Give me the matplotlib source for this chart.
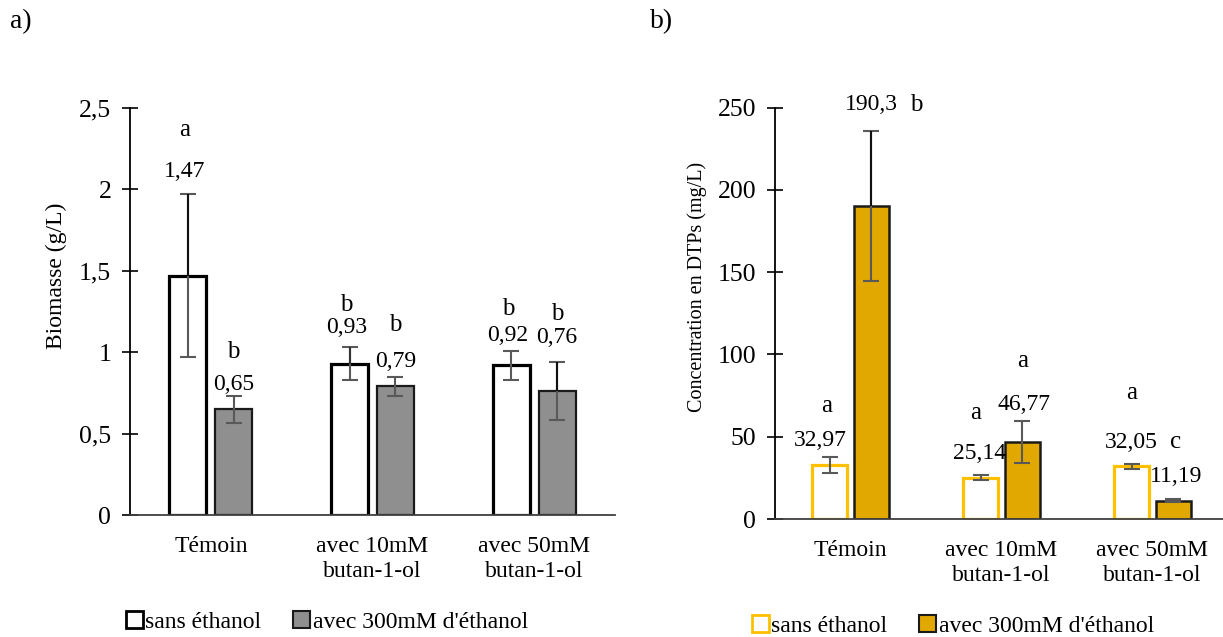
import matplotlib
matplotlib.use("Agg")
import matplotlib.pyplot as plt
from matplotlib.patches import Patch
import numpy as np

plt.rcParams['font.family'] = ['Liberation Serif', 'DejaVu Serif']

categories = ["Témoin", "avec 10mM\nbutan-1-ol", "avec 50mM\nbutan-1-ol"]
series_names = ["sans éthanol", "avec 300mM d'éthanol"]

# Panel a) biomasse (g/L)
bio_sans = [1.47, 0.93, 0.92]
bio_avec = [0.65, 0.79, 0.76]
bio_sans_err = [0.50, 0.10, 0.09]
bio_avec_err = [0.083, 0.06, 0.177]
bio_sans_lbl = ["1,47", "0,93", "0,92"]
bio_avec_lbl = ["0,65", "0,79", "0,76"]
bio_sans_let = ["a", "b", "b"]
bio_avec_let = ["b", "b", "b"]

# Panel b) DTPs (mg/L)
dtp_sans = [32.97, 25.14, 32.05]
dtp_avec = [190.3, 46.77, 11.19]
dtp_sans_err = [5.0, 1.5, 1.6]
dtp_avec_err = [45.4, 12.7, 1.0]
dtp_sans_lbl = ["32,97", "25,14", "32,05"]
dtp_avec_lbl = ["190,3", "46,77", "11,19"]
dtp_sans_let = ["a", "a", "a"]
dtp_avec_let = ["b", "a", "c"]

W, H = 1223, 637
fig = plt.figure(figsize=(W / 100, H / 100), dpi=100)

FS = 17
YFS = 18.5
ERRC = "#595959"

def setup(ax, ylim, yticks, ylabels):
    ax.set_ylim(*ylim)
    ax.set_xlim(-0.5, 2.5)
    for s in ["top", "right"]:
        ax.spines[s].set_visible(False)
    ax.spines["left"].set_color("black")
    ax.spines["bottom"].set_color("#404040")
    ax.spines["left"].set_linewidth(1.3)
    ax.spines["bottom"].set_linewidth(1.3)
    ax.set_yticks(yticks)
    ax.set_yticklabels(ylabels, fontsize=YFS)
    ax.tick_params(axis="y", direction="inout", length=11, width=1.2, pad=8)
    x = np.arange(len(categories))
    ax.set_xticks(x)
    ax.set_xticklabels(categories, fontsize=FS, linespacing=1.25)
    ax.tick_params(axis="x", length=0, pad=15)
    return x

def errs(ax, xs, ys, es, upcolors):
    ax.errorbar(xs, ys, yerr=es, fmt="none", ecolor=ERRC, elinewidth=1.5,
                capsize=6, capthick=1.5, zorder=3)
    for xi, yi, ei, uc in zip(xs, ys, es, upcolors):
        if uc != ERRC:
            ax.errorbar([xi], [yi], yerr=[[0], [ei]], fmt="none", ecolor=uc, elinewidth=1.5,
                        capsize=0, zorder=4)

# ---------- Panel a ----------
ax1 = fig.add_axes([130 / W, 1 - 515 / H, 485 / W, 407 / H])
x = setup(ax1, (0, 2.5), [0, 0.5, 1, 1.5, 2, 2.5], ["0", "0,5", "1", "1,5", "2", "2,5"])
bw = 0.228
off = 0.142
ax1.bar(x - off, bio_sans, bw, color="white", edgecolor="black", linewidth=2.3, zorder=2)
ax1.bar(x + off, bio_avec, bw, color="#8f8f8f", edgecolor="#1a1a1a", linewidth=1.6, zorder=2)
errs(ax1, x - off, bio_sans, bio_sans_err, ["#111111", "#333333", ERRC])
errs(ax1, x + off, bio_avec, bio_avec_err, [ERRC, ERRC, "#111111"])
bio_sans_ly = [2.107, 1.149, 1.10]
bio_sans_lety = [2.365, 1.29, 1.265]
bio_avec_ly = [0.80, 0.942, 1.091]
bio_avec_lety = [1.00, 1.167, 1.235]
for i in range(3):
    ax1.text(x[i] - off - 0.02, bio_sans_ly[i], bio_sans_lbl[i], ha="center", va="center", fontsize=FS)
    ax1.text(x[i] - off - 0.02, bio_sans_lety[i], bio_sans_let[i], ha="center", va="center", fontsize=FS + 1)
    ax1.text(x[i] + off, bio_avec_ly[i], bio_avec_lbl[i], ha="center", va="center", fontsize=FS)
    ax1.text(x[i] + off, bio_avec_lety[i], bio_avec_let[i], ha="center", va="center", fontsize=FS + 1)
ax1.set_ylabel("Biomasse (g/L)", fontsize=FS)
ax1.yaxis.set_label_coords(-(130 - 67) / 485, (515 - 276) / 407)

# ---------- Panel b ----------
ax2 = fig.add_axes([775 / W, 1 - 519 / H, 453 / W, 411.3 / H])
x = setup(ax2, (0, 250), [0, 50, 100, 150, 200, 250], ["0", "50", "100", "150", "200", "250"])
bw2 = 0.232
off2 = 0.139
ax2.bar(x - off2, dtp_sans, bw2, color="white", edgecolor="#FFC000", linewidth=2.3, zorder=2)
ax2.bar(x + off2, dtp_avec, bw2, color="#E0A800", edgecolor="#1a1a1a", linewidth=1.8, zorder=2)
errs(ax2, x - off2, dtp_sans, dtp_sans_err, [ERRC, ERRC, ERRC])
errs(ax2, x + off2, dtp_avec, dtp_avec_err, ["#111111", ERRC, ERRC])
dtp_sans_ly = [47.6, 39.9, 46.6]
dtp_sans_lx = [-0.058, -0.005, 0.0]
dtp_sans_lety = [68.7, 64.6, 76.4]
dtp_sans_letx = [-0.017, -0.033, 0.0]
dtp_avec_ly = [251.7, 69.7, 25.7]
dtp_avec_lx = [0.0, 0.013, 0.017]
for i in range(3):
    ax2.text(x[i] - off2 + dtp_sans_lx[i], dtp_sans_ly[i], dtp_sans_lbl[i], ha="center", va="center", fontsize=FS)
    ax2.text(x[i] - off2 + dtp_sans_letx[i], dtp_sans_lety[i], dtp_sans_let[i], ha="center", va="center", fontsize=FS + 1)
    ax2.text(x[i] + off2 + dtp_avec_lx[i], dtp_avec_ly[i], dtp_avec_lbl[i], ha="center", va="center", fontsize=FS)
ax2.text(x[0] + off2 + 0.30, 251.7, dtp_avec_let[0], ha="center", va="center", fontsize=FS + 1)
ax2.text(x[1] + off2, 96.2, dtp_avec_let[1], ha="center", va="center", fontsize=FS + 1)
ax2.text(x[2] + off2 + 0.017, 46.6, dtp_avec_let[2], ha="center", va="center", fontsize=FS + 1)
ax2.set_ylabel("Concentration en DTPs (mg/L)", fontsize=14.5)
ax2.yaxis.set_label_coords(-(775 - 707) / 453, (519 - 287) / 411.3)

# ---------- Panel letters ----------
fig.text(10 / W, 1 - 22 / H, "a)", fontsize=FS + 3, ha="left", va="center")
fig.text(650 / W, 1 - 22 / H, "b)", fontsize=FS + 3, ha="left", va="center")

# ---------- Legends ----------
h1 = [Patch(facecolor="white", edgecolor="black", linewidth=2.0, label=series_names[0]),
      Patch(facecolor="#8f8f8f", edgecolor="#1a1a1a", linewidth=1.5, label=series_names[1])]
fig.legend(handles=h1, loc="center left", bbox_to_anchor=(126 / W, 1 - 622 / H), ncol=2,
           frameon=False, fontsize=FS, handlelength=0.72, handleheight=0.72,
           handletextpad=0.1, columnspacing=1.35, borderpad=0, borderaxespad=0)
h2 = [Patch(facecolor="white", edgecolor="#FFC000", linewidth=2.0, label=series_names[0]),
      Patch(facecolor="#E0A800", edgecolor="#1a1a1a", linewidth=1.5, label=series_names[1])]
fig.legend(handles=h2, loc="center left", bbox_to_anchor=(752 / W, 1 - 626 / H), ncol=2,
           frameon=False, fontsize=FS, handlelength=0.72, handleheight=0.72,
           handletextpad=0.1, columnspacing=1.35, borderpad=0, borderaxespad=0)

fig.savefig("out.png", dpi=100)
